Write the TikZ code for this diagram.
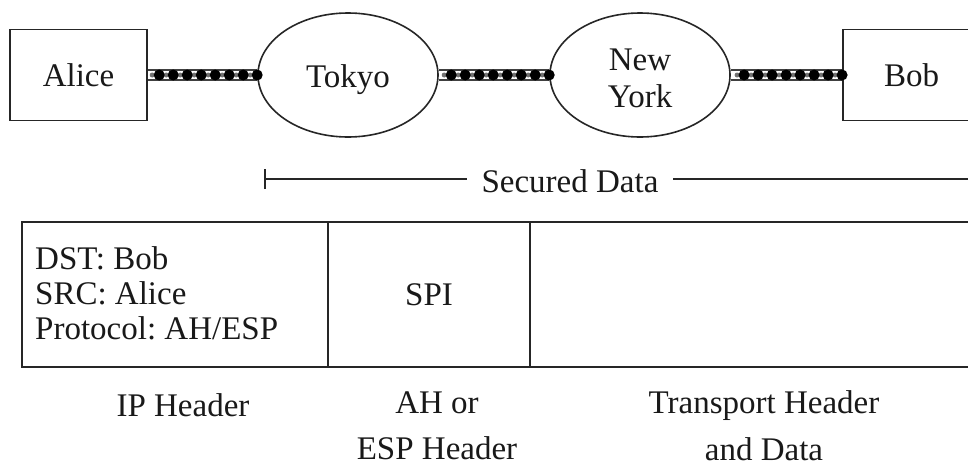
\documentclass[tikz,border=0pt]{standalone}
\usepackage{fontspec}
\setmainfont{Liberation Serif}
\usetikzlibrary{shapes.geometric,arrows.meta}
\begin{document}
\frenchspacing
\begin{tikzpicture}[x=1pt,y=1pt,
  ink/.style={draw=black!85, line width=1.8pt},
  txt/.style={font=\fontsize{33}{36}\selectfont, inner sep=0pt, text=black!90},
  hostbox/.style={ink, txt, minimum width=137pt, minimum height=91pt},
  city/.style={ellipse, ink, line width=1.6pt, minimum width=180pt, minimum height=124pt, inner sep=0pt},
  cell/.style={ink, txt, minimum height=145pt},
  chainbase/.style={line width=12pt, black!75},
  chainfill/.style={line width=8pt, white},
  chaindots/.style={line width=11pt, black, line cap=round, dash pattern=on 0pt off 14pt},
  chainmid/.style={line width=5pt, black!55, line cap=round, dash pattern=on 0pt off 14pt, dash phase=7pt}
]
\useasboundingbox (0,0) rectangle (968,-464);
\clip (0,0) rectangle (968,-464);

% hosts and gateways
\node[hostbox] (alice) at (78.5,-75) {Alice};
\node[city] (tokyo) at (348,-75) {};
\node[txt, text depth=0pt] (tokyotext) at (348,-76) {Tokyo};
\node[city] (ny) at (640,-75) {};
\node[txt, font=\fontsize{33}{37}\selectfont, align=center] (nytext) at (640,-78.5) {New\\York};
\node[hostbox] (bob) at (911.5,-75) {Bob};

% tunnel links
\foreach \a/\b in {alice/tokyo, tokyo/ny, ny/bob}{
  \draw[chainbase] (\a.east) -- (\b.west);
  \draw[chainfill] (\a.east) -- (\b.west);
  \draw[chainmid] (\b.west) -- (\a.east);
  \draw[chaindots] (\b.west) -- (\a.east);
}

% secured data span
\coordinate (sdl) at (264,-179);
\coordinate (sdr) at (998,-179);
\draw[ink, {Bar[width=20pt]}-{Bar[width=20pt]}] (sdl) -- (sdr);
\node[txt, fill=white, inner xsep=15pt, inner ysep=2pt] (sd) at (570,-181) {Secured Data};

% packet
\node[cell, minimum width=306pt] (ip) at (175,-294.5) {};
\node[cell, minimum width=202pt] (ah) at (429,-294.5) {SPI};
\node[cell, minimum width=468pt] (tr) at (764,-294.5) {};
\node[txt, font=\fontsize{33}{35}\selectfont, align=left, anchor=west] (iptext) at (35,-293) {DST: Bob\\SRC: Alice\\Protocol: AH/ESP};

% labels
\node[txt] (iplbl) at (183,-405) {IP Header};
\node[txt, font=\fontsize{33}{46}\selectfont, align=center] (ahlbl) at (437,-426) {AH or\\ESP Header};
\node[txt, font=\fontsize{33}{47}\selectfont, align=center] (trlbl) at (764,-426) {Transport Header\\and Data};
\end{tikzpicture}
\end{document}
